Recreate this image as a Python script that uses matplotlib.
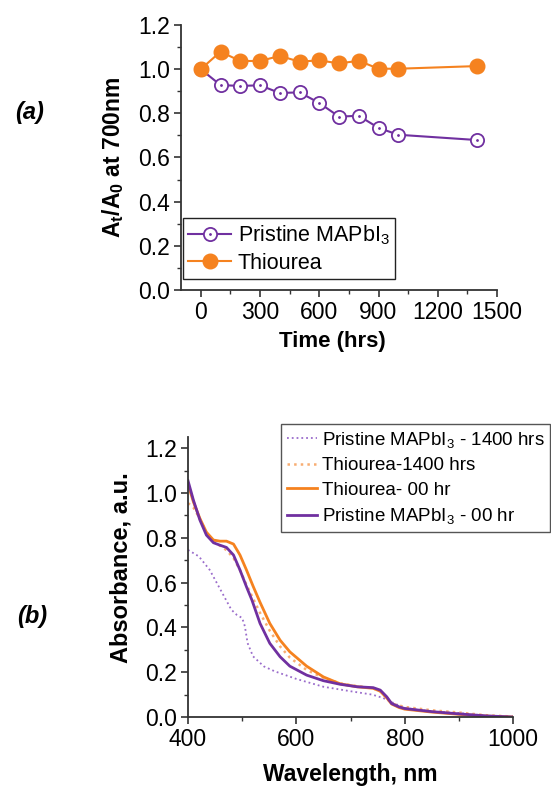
import numpy as np
import matplotlib
matplotlib.use('Agg')
import matplotlib.pyplot as plt
from matplotlib.ticker import MultipleLocator

plt.rcParams['font.family'] = ['Liberation Sans', 'DejaVu Sans']
plt.rcParams['mathtext.fontset'] = 'custom'
plt.rcParams['mathtext.rm'] = 'Liberation Sans'
plt.rcParams['mathtext.bf'] = 'Liberation Sans:bold'
plt.rcParams['mathtext.default'] = 'regular'

# stability: normalised absorbance at 700 nm vs ageing time
time_hrs = [0, 100, 200, 300, 400, 500, 600, 700, 800, 900, 1000, 1400]
pristine_ratio = [1.0, 0.928, 0.924, 0.927, 0.892, 0.895, 0.847, 0.785, 0.789, 0.734, 0.703, 0.679]
thiourea_ratio = [1.0, 1.079, 1.037, 1.037, 1.060, 1.034, 1.040, 1.026, 1.038, 1.002, 1.002, 1.014]

# UV-vis spectra
wl_pristine_0 = [400, 410, 422, 434, 447, 459, 471, 484, 496, 508, 518, 533, 551, 570, 588, 619,
                 650, 681, 712, 742, 755, 767, 776, 790, 800, 850, 900, 950, 1000]
abs_pristine_0 = [1.055, 0.968, 0.879, 0.812, 0.778, 0.767, 0.757, 0.723, 0.656, 0.581, 0.522, 0.418,
                  0.329, 0.269, 0.227, 0.187, 0.162, 0.146, 0.135, 0.131, 0.120, 0.090, 0.060, 0.045,
                  0.038, 0.024, 0.014, 0.005, 0.0]

wl_thiourea_0 = [400, 410, 422, 434, 447, 459, 471, 484, 496, 508, 520, 533, 551, 570, 588, 619,
                 650, 681, 712, 742, 755, 767, 776, 790, 800, 850, 900, 950, 1000]
abs_thiourea_0 = [1.04, 0.96, 0.886, 0.825, 0.79, 0.785, 0.785, 0.772, 0.723, 0.656, 0.585, 0.512,
                  0.418, 0.343, 0.291, 0.227, 0.179, 0.148, 0.135, 0.128, 0.115, 0.085, 0.058, 0.042,
                  0.035, 0.022, 0.012, 0.004, 0.0]

wl_thiourea_1400 = [400, 410, 422, 434, 447, 459, 471, 484, 496, 508, 520, 533, 551, 570, 588, 619,
                    650, 681, 712, 742, 755, 767, 776, 800, 850, 900, 950, 1000]
abs_thiourea_1400 = [0.955, 0.935, 0.885, 0.82, 0.785, 0.765, 0.745, 0.71, 0.655, 0.59, 0.53, 0.465,
                     0.385, 0.315, 0.265, 0.21, 0.175, 0.15, 0.138, 0.128, 0.115, 0.085, 0.06, 0.045,
                     0.03, 0.02, 0.008, 0.002]

wl_pristine_1400 = [400, 420, 440, 460, 480, 490, 500, 505, 510, 520, 540, 560, 600, 650, 700, 740,
                    760, 780, 800, 850, 900, 950, 1000]
abs_pristine_1400 = [0.746, 0.717, 0.657, 0.568, 0.479, 0.456, 0.442, 0.405, 0.33, 0.271, 0.226,
                     0.204, 0.170, 0.135, 0.115, 0.10, 0.085, 0.062, 0.04, 0.025, 0.018, 0.006, 0.0]

purple = '#7030a0'
orange = '#f5821f'
purple_light = '#9a6ccb'
orange_light = '#f8ad72'
axis_col = '#333333'


def style_axes(ax):
    ax.spines['top'].set_visible(False)
    ax.spines['right'].set_visible(False)
    for s in ['left', 'bottom']:
        ax.spines[s].set_color(axis_col)
        ax.spines[s].set_linewidth(1.3)
    ax.tick_params(which='major', direction='out', length=5, width=1.2, color=axis_col,
                   labelsize=16.5, pad=3)
    ax.tick_params(which='minor', direction='out', length=3, width=1.0, color=axis_col)


fig = plt.figure(figsize=(5.51, 7.89), dpi=100)

# (a) normalised absorbance vs time
ax1 = fig.add_axes([181 / 551, 1 - 290 / 789, 316 / 551, 265 / 789])
l1, = ax1.plot(time_hrs, pristine_ratio, '-o', color=purple, lw=1.5, ms=9.5,
               mfc='white', mec=purple, mew=1.3)
d1, = ax1.plot(time_hrs, pristine_ratio, '.', color=purple, ms=2)
l2, = ax1.plot(time_hrs, thiourea_ratio, '-o', color=orange, lw=1.5, ms=10.5,
               mfc=orange, mec=orange)
ax1.set_xlim(-100, 1500)
ax1.set_ylim(0, 1.2)
ax1.xaxis.set_major_locator(MultipleLocator(300))
ax1.xaxis.set_minor_locator(MultipleLocator(150))
ax1.yaxis.set_major_locator(MultipleLocator(0.2))
ax1.yaxis.set_minor_locator(MultipleLocator(0.1))
ax1.yaxis.set_major_formatter(lambda v, p: f'{v:.1f}')
style_axes(ax1)
ax1.set_xlabel('Time (hrs)', fontsize=16, fontweight='bold')
ax1.set_ylabel(r'A$_{\mathbf{t}}$/A$_{\mathbf{0}}$ at 700nm', fontsize=16.5, fontweight='bold')
ax1.xaxis.set_label_coords(0.48, -0.155)
ax1.yaxis.set_label_coords(-0.175, 0.5)
leg1 = ax1.legend([(l1, d1), l2], ['Pristine MAPbI$_3$', 'Thiourea'], loc='lower left',
                  bbox_to_anchor=(183 / 551, 1 - 279 / 789), bbox_transform=fig.transFigure,
                  borderaxespad=0, fontsize=15.5, handlelength=2.0, handletextpad=0.3,
                  labelspacing=0.25, borderpad=0.25, fancybox=False, framealpha=1)
leg1.get_frame().set_edgecolor('#222222')
leg1.get_frame().set_linewidth(1.0)

# (b) absorbance spectra
ax2 = fig.add_axes([188 / 551, 1 - 717 / 789, 325 / 551, 280 / 789])
ax2.plot(wl_pristine_1400, abs_pristine_1400, ':', color=purple_light, lw=1.3,
         label='Pristine MAPbI$_3$ - 1400 hrs')
ax2.plot(wl_thiourea_1400, abs_thiourea_1400, ':', color=orange_light, lw=1.8,
         label='Thiourea-1400 hrs')
ax2.plot(wl_thiourea_0, abs_thiourea_0, '-', color=orange, lw=2.0, label='Thiourea- 00 hr')
ax2.plot(wl_pristine_0, abs_pristine_0, '-', color=purple, lw=2.0,
         label='Pristine MAPbI$_3$ - 00 hr')
ax2.set_xlim(400, 1000)
ax2.set_ylim(0, 1.25)
ax2.xaxis.set_major_locator(MultipleLocator(200))
ax2.xaxis.set_minor_locator(MultipleLocator(100))
ax2.yaxis.set_major_locator(MultipleLocator(0.2))
ax2.yaxis.set_minor_locator(MultipleLocator(0.1))
ax2.yaxis.set_major_formatter(lambda v, p: f'{v:.1f}')
style_axes(ax2)
ax2.set_xlabel('Wavelength, nm', fontsize=16.5, fontweight='bold')
ax2.set_ylabel('Absorbance, a.u.', fontsize=17, fontweight='bold')
ax2.xaxis.set_label_coords(0.5, -0.165)
ax2.yaxis.set_label_coords(-0.172, 0.535)
leg2 = ax2.legend(loc='upper right', bbox_to_anchor=(550 / 551, 1 - 424 / 789),
                  bbox_transform=fig.transFigure, borderaxespad=0, fontsize=13.5,
                  handlelength=1.6, handletextpad=0.26, labelspacing=0.4, borderpad=0.3,
                  fancybox=False, framealpha=1)
leg2.get_frame().set_edgecolor('#555555')
leg2.get_frame().set_linewidth(1.0)

fig.text(30 / 551, 1 - 113 / 789, '(a)', fontsize=17, fontweight='bold', style='italic',
         ha='center', va='center')
fig.text(32 / 551, 1 - 617 / 789, '(b)', fontsize=17, fontweight='bold', style='italic',
         ha='center', va='center')

fig.savefig('out.png', dpi=100)
